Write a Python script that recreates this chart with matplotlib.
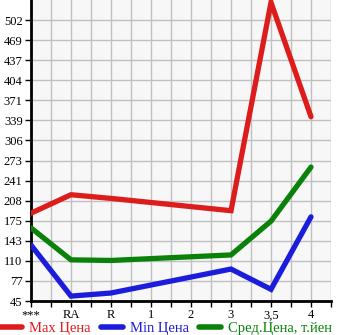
import matplotlib
matplotlib.use('Agg')
from matplotlib import pyplot as plt
from matplotlib.ticker import MultipleLocator
import numpy as np

categories = ['***', 'RA', 'R', '1', '2', '3', '3,5', '4']
# points exist only for these categories (1 and 2 have no data)
pos = [0, 1, 2, 5, 6, 7]
max_price = [188, 218, 212, 192, 531, 345]
min_price = [136, 53, 58, 97, 64, 182]
avg_price = [164, 112, 111, 120, 175, 263]
labels = ['Max Цена', 'Min Цена', 'Сред.Цена, т.йен']
colors = ['#dd1c1c', '#1c1cdd', '#0a820a']

ymin, ymax = 45, 535
yticks = [ymin + k * (ymax - ymin) / 15 for k in range(15)]

plt.rcParams['font.family'] = ['Liberation Serif', 'DejaVu Serif']

fig = plt.figure(figsize=(3.45, 3.35), dpi=100)
ax = fig.add_axes([31/345, 34/335, 300/345, 301/335])
ax.set_facecolor('#f7f7f7')

for vals, lab, c in zip([max_price, min_price, avg_price], labels, colors):
	ax.plot(pos, vals, color=c, lw=3.8, label=lab, solid_capstyle='round', solid_joinstyle='miter', zorder=3)

ax.set_xlim(0, 7.5)
ax.set_ylim(ymin, ymax)
ax.set_xticks(range(len(categories)))
ax.set_xticklabels(categories)
ax.xaxis.set_minor_locator(MultipleLocator(0.5))
ax.set_yticks(yticks)
ax.set_yticklabels([str(int(t)) for t in yticks])

ax.grid(True, which='both', color='#c0c0c0', lw=1)
ax.set_axisbelow(True)
for s in ['top', 'right']:
	ax.spines[s].set_visible(False)
for s in ['left', 'bottom']:
	ax.spines[s].set_linewidth(2)
ax.tick_params(axis='both', which='both', length=4, width=1, labelsize=9, pad=2, colors='black')
ax.tick_params(axis='x', which='minor', length=4)
ax.tick_params(axis='y', pad=2)

leg = fig.legend(loc='center left', bbox_to_anchor=(0, 7/335), ncol=3, frameon=False,
	fontsize=10.5, handlelength=1.5, handletextpad=0.5, columnspacing=0.7, labelcolor='linecolor',
	borderpad=0, borderaxespad=0)
for h in leg.legend_handles:
	h.set_linewidth(4)

fig.savefig('out.png', dpi=100)
